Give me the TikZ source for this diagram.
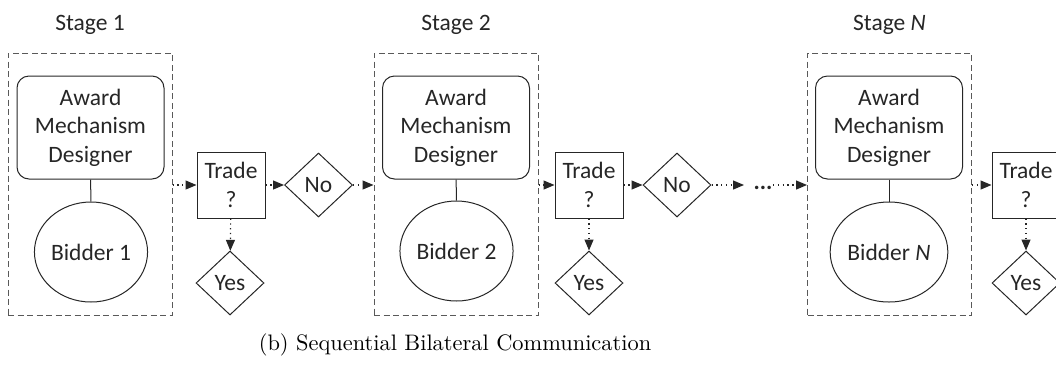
\documentclass[tikz,border=0pt]{standalone}
\usepackage{fontspec}
\newfontfamily\carlito{Carlito}
\newfontfamily\capfont{lmroman10-regular}[Extension=.otf]
\usetikzlibrary{shapes.geometric,arrows.meta}
\begin{document}
\begin{tikzpicture}[x=1pt,y=-1pt,
  every node/.style={font=\carlito\fontsize{23.5}{28.5}\selectfont, text=black!85},
  stagebox/.style={draw=black!65, dash pattern=on 6pt off 3.5pt, line width=1pt,
    minimum width=164pt, minimum height=262pt, inner sep=0pt},
  awardbox/.style={draw=black!85, line width=1pt, rounded corners=12pt,
    minimum width=147pt, minimum height=103pt, align=center, inner sep=0pt},
  bidder/.style={draw=black!85, ellipse, minimum width=110pt, minimum height=100pt,
    inner sep=0pt, line width=1pt},
  tradebox/.style={draw=black!85, rectangle, minimum width=68pt, minimum height=66pt,
    align=center, inner sep=0pt, line width=1pt},
  decision/.style={draw=black!85, diamond, minimum width=68pt, minimum height=64pt,
    inner sep=0pt, line width=1pt},
  link/.style={draw=black!85, line width=1pt},
  flow/.style={draw=black!85, line width=1.2pt, dash pattern=on 1.3pt off 3.5pt,
    -{Triangle[length=11pt,width=9pt]}},
  stagelabel/.style={anchor=base},
]
\useasboundingbox (0,0) rectangle (1056,365);

% ---- Stage 1 ----
\node[stagebox] (S1) at (90,184) {};
\node[stagelabel] (L1) at (90,30) {Stage 1};
\node[awardbox] (A1) at (90.5,127.5) {Award\\Mechanism\\Designer};
\node[bidder] (B1) at (91,252) {Bidder 1};
\node[tradebox] (T1) at (231,185) {Trade\\?};
\node[decision] (Y1) at (230,283) {Yes};
\node[decision] (N1) at (318.5,185) {No};

% ---- Stage 2 ----
\node[stagebox] (S2) at (456,184) {};
\node[stagelabel] (L2) at (456,30) {Stage 2};
\node[awardbox] (A2) at (456,127.5) {Award\\Mechanism\\Designer};
\node[bidder] (B2) at (456.5,251) {Bidder 2};
\node[tradebox] (T2) at (589,185) {Trade\\?};
\node[decision] (Y2) at (589,283) {Yes};
\node[decision] (N2) at (677,185) {No};

% ---- Stage N ----
\node[stagebox] (SN) at (889.5,184) {};
\node[stagelabel] (LN) at (889.5,30) {Stage \textit{N}};
\node[awardbox] (AN) at (889,127.5) {Award\\Mechanism\\Designer};
\node[bidder] (BN) at (889,252) {Bidder \textit{N}};
\node[tradebox] (TN) at (1026,185) {Trade\\?};
\node[decision] (YN) at (1026,283) {Yes};

% ---- solid links inside each stage ----
\draw[link] (A1) -- (B1);
\draw[link] (A2) -- (B2);
\draw[link] (AN) -- (BN);

% ---- flow between stages ----
\draw[flow] (T1.west -| S1.east) -- (T1.west);
\draw[flow] (T1) -- (N1);
\draw[flow] (N1) -- (N1.east -| S2.west);
\draw[flow] (T1) -- (Y1);

\draw[flow] (T2.west -| S2.east) -- (T2.west);
\draw[flow] (T2) -- (N2);
\draw[flow] (T2) -- (Y2);

\coordinate (g1) at (744,185);
\draw[flow] (N2) -- (g1);
\node[anchor=base, inner sep=0pt] (gap) at (763,189) {\textbf{...}};
\coordinate (g2) at (773,185);
\draw[flow] (g2) -- (g2 -| SN.west);

\draw[flow] (TN.west -| SN.east) -- (TN.west);
\draw[flow] (TN) -- (YN);

% ---- caption ----
\node[font=\capfont\fontsize{22.4}{27}\selectfont, text=black] (cap) at (455,345)
  {(b) Sequential Bilateral Communication};
\end{tikzpicture}
\end{document}
